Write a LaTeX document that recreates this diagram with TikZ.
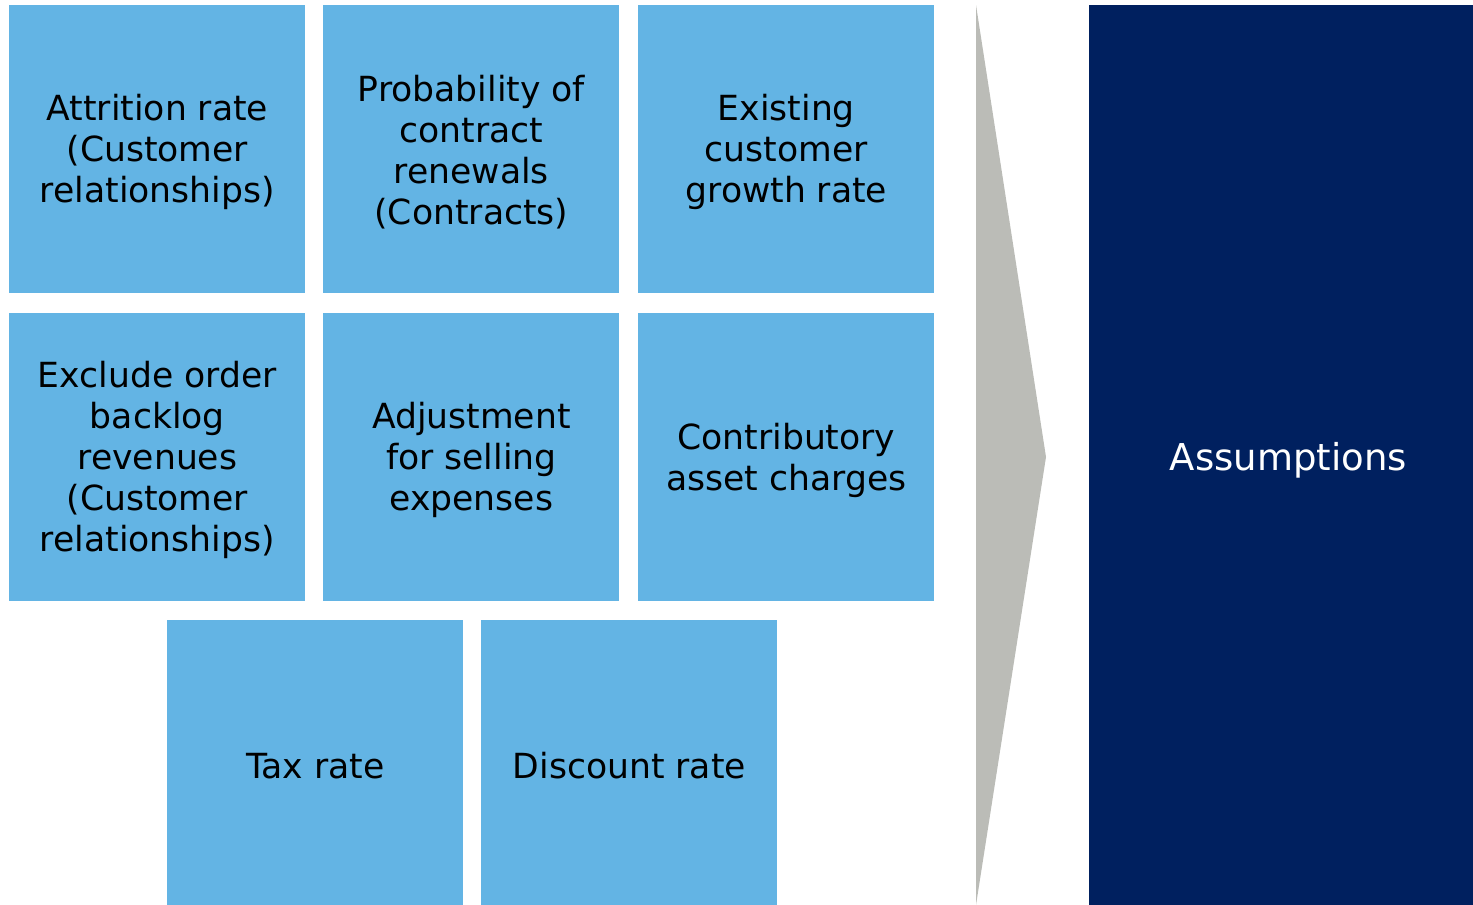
\documentclass[tikz,border=0pt]{standalone}
\usepackage{fontspec}
\setmainfont{DejaVu Sans}
\definecolor{lblue}{HTML}{63B4E4}
\definecolor{arrgray}{HTML}{BBBCB7}
\definecolor{navy}{HTML}{00205F}
\begin{document}
\begin{tikzpicture}[x=0.5pt,y=-0.5pt,
  box/.style={fill=lblue,draw=none,inner sep=0pt,minimum width=148pt,minimum height=144pt,anchor=north west},
  lbl/.style={inner sep=0pt,align=center,font=\fontsize{17.3}{20.5}\selectfont,text=black},
]
\useasboundingbox (0,0) rectangle (1473,905);
\node[box] (b1) at (9,5) {};
\node[box] (b2) at (323,5) {};
\node[box] (b3) at (638,5) {};
\node[box] (b4) at (9,313) {};
\node[box] (b5) at (323,313) {};
\node[box] (b6) at (638,313) {};
\node[box,minimum height=142.5pt] (b7) at (167,620) {};
\node[box,minimum height=142.5pt] (b8) at (481,620) {};
\node[lbl] (t1) at ([yshift=-1.5pt]b1.center) {Attrition rate\\(Customer\\relationships)};
\node[lbl] (t2) at ([yshift=-1.5pt]b2.center) {Probability of\\contract\\renewals\\(Contracts)};
\node[lbl] (t3) at ([yshift=-1.5pt]b3.center) {Existing\\customer\\growth rate};
\node[lbl] (t4) at ([yshift=-1.5pt]b4.center) {Exclude order\\backlog\\revenues\\(Customer\\relationships)};
\node[lbl] (t5) at ([yshift=-1.5pt]b5.center) {Adjustment\\for selling\\expenses};
\node[lbl] (t6) at ([yshift=-1.5pt]b6.center) {Contributory\\asset charges};
\node[lbl] (t7) at ([yshift=-1.5pt]b7.center) {Tax rate};
\node[lbl] (t8) at ([yshift=-1.5pt]b8.center) {Discount rate};
\fill[arrgray] (976,5) coordinate (at) -- (1046,457) coordinate (tip) -- (976,905) coordinate (ab) -- cycle;
\node[fill=navy,draw=none,inner sep=0pt,minimum width=192pt,minimum height=450pt,anchor=north west] (assum) at (1089,5) {};
\node[lbl,text=white,font=\fontsize{18.5}{22}\selectfont] (ta) at ([xshift=3.5pt,yshift=-2.5pt]assum.center) {Assumptions};
\end{tikzpicture}
\end{document}
